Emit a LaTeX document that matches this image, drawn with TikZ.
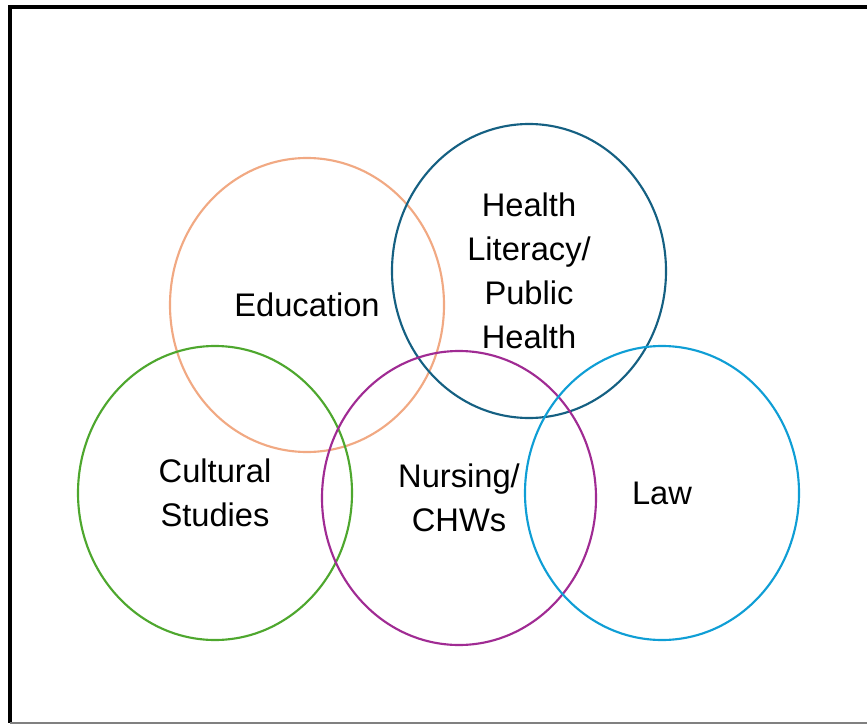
\documentclass[tikz,border=0pt]{standalone}
\usepackage{fontspec}
\setmainfont{Liberation Sans}
\usepackage{tikz}
\usetikzlibrary{shapes}
\definecolor{eduorange}{HTML}{F1A983}
\definecolor{healthblue}{HTML}{156082}
\definecolor{culturegreen}{HTML}{4EA72E}
\definecolor{nursepurple}{HTML}{A02B93}
\definecolor{lawblue}{HTML}{0F9ED5}
\tikzstyle{field}=[ellipse, draw
,line width=1.6pt
,minimum width=205.5pt
,minimum height=220.5pt
,inner sep=0pt
,align=center
,text=black
,font=\fontsize{24.5}{33}\selectfont
]
\tikzstyle{frame} = [draw,line width=2.3pt,-]

\begin{document}
\begin{tikzpicture}[x=0.75pt,y=-0.75pt]
    \useasboundingbox (0,0) rectangle (867,724);
    % Frame round the diagram
    \coordinate (topright) at (867,7);
    \coordinate (topleft) at (10,7);
    \coordinate (botleft) at (10,723);
    \coordinate (botright) at (867,723);
    \path[frame] (topright) -- (topleft) -- (botleft);
    \path[draw,gray,line width=1pt] (botleft) -- (botright);

    % Then the five fields
    \foreach \pos/\name/\col/\txt in {{(307,305)/edu/eduorange/Education},
        {(529,271)/health/healthblue/{Health\\Literacy/\\Public\\Health}},
        {(215,493)/culture/culturegreen/{Cultural\\Studies}},
        {(459,498)/nursing/nursepurple/{Nursing/\\CHWs}},
        {(662,493)/law/lawblue/Law}}
        \node[field, draw=\col] (\name) at \pos {\txt};

\end{tikzpicture}
\end{document}
